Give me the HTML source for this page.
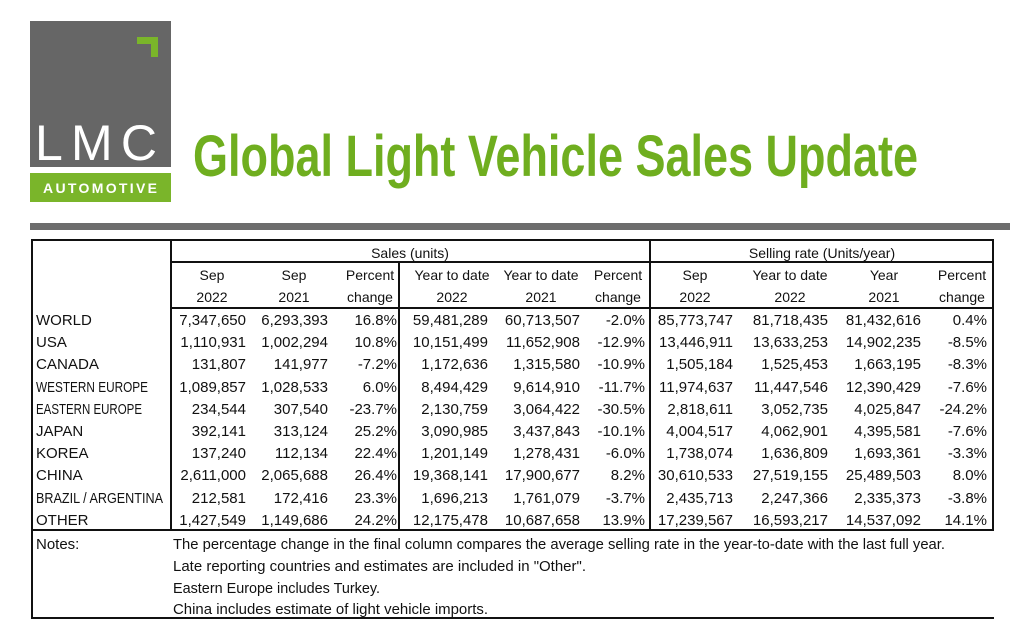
<!DOCTYPE html>
<html><head><meta charset="utf-8"><style>
html,body{margin:0;padding:0;background:#fff;}
svg{display:block;}
text{font-family:"Liberation Sans",sans-serif;fill:#111;font-size:14px;}
.n text{font-size:15px;text-anchor:end;}
.c{text-anchor:middle;}
</style></head><body>
<svg width="1024" height="644" viewBox="0 0 1024 644" xmlns="http://www.w3.org/2000/svg">
<rect x="30" y="21" width="141" height="146" fill="#666666"/>
<path d="M137 37 H158 V57 H151 V44 H137 Z" fill="#7ab52a"/>
<text x="35" y="160" style="font-size:50px;fill:#fff;letter-spacing:4px" textLength="126">LMC</text>
<rect x="30" y="173" width="141" height="29" fill="#7ab52a"/>
<text x="100" y="193" class="c" style="font-size:14px;font-weight:bold;fill:#fff" textLength="114">AUTOMOTIVE</text>
<text x="193" y="176" style="font-size:58px;font-weight:bold;fill:#6fae1f" textLength="725" lengthAdjust="spacingAndGlyphs">Global Light Vehicle Sales Update</text>
<rect x="30" y="223" width="980" height="7" fill="#6d6d6d"/>
<g stroke="#111" stroke-width="2" fill="none">
<line x1="31" y1="240" x2="994" y2="240"/>
<line x1="170" y1="262" x2="994" y2="262"/>
<line x1="170" y1="308" x2="994" y2="308"/>
<line x1="31" y1="530" x2="994" y2="530"/>
<line x1="31" y1="618" x2="994" y2="618"/>
<line x1="32" y1="239" x2="32" y2="619"/>
<line x1="171" y1="239" x2="171" y2="531"/>
<line x1="399" y1="262" x2="399" y2="531"/>
<line x1="650" y1="239" x2="650" y2="531"/>
<line x1="993" y1="239" x2="993" y2="531"/>
</g>
<text x="410" y="258" class="c">Sales (units)</text>
<text x="822" y="258" class="c">Selling rate (Units/year)</text>
<text x="212" y="280" class="c">Sep</text><text x="212" y="302" class="c">2022</text>
<text x="294" y="280" class="c">Sep</text><text x="294" y="302" class="c">2021</text>
<text x="370" y="280" class="c">Percent</text><text x="370" y="302" class="c">change</text>
<text x="452" y="280" class="c">Year to date</text><text x="452" y="302" class="c">2022</text>
<text x="541" y="280" class="c">Year to date</text><text x="541" y="302" class="c">2021</text>
<text x="618" y="280" class="c">Percent</text><text x="618" y="302" class="c">change</text>
<text x="695" y="280" class="c">Sep</text><text x="695" y="302" class="c">2022</text>
<text x="790" y="280" class="c">Year to date</text><text x="790" y="302" class="c">2022</text>
<text x="884" y="280" class="c">Year</text><text x="884" y="302" class="c">2021</text>
<text x="962" y="280" class="c">Percent</text><text x="962" y="302" class="c">change</text>

<text x="36" y="549" style="font-size:15px">Notes:</text>
<text x="173" y="549" style="font-size:15px" textLength="772" lengthAdjust="spacingAndGlyphs">The percentage change in the final column compares the average selling rate in the year-to-date with the last full year.</text>
<text x="173" y="571" style="font-size:15px" textLength="413" lengthAdjust="spacingAndGlyphs">Late reporting countries and estimates are included in "Other".</text>
<text x="173" y="593" style="font-size:15px" textLength="207" lengthAdjust="spacingAndGlyphs">Eastern Europe includes Turkey.</text>
<text x="173" y="614" style="font-size:15px" textLength="315" lengthAdjust="spacingAndGlyphs">China includes estimate of light vehicle imports.</text>

<g>
<text x="36" y="325" style="font-size:15px">WORLD</text>
<text x="36" y="347" style="font-size:15px">USA</text>
<text x="36" y="369" style="font-size:15px" textLength="63" lengthAdjust="spacingAndGlyphs">CANADA</text>
<text x="36" y="392" style="font-size:15px" textLength="112" lengthAdjust="spacingAndGlyphs">WESTERN EUROPE</text>
<text x="36" y="414" style="font-size:15px" textLength="106" lengthAdjust="spacingAndGlyphs">EASTERN EUROPE</text>
<text x="36" y="436" style="font-size:15px">JAPAN</text>
<text x="36" y="458" style="font-size:15px">KOREA</text>
<text x="36" y="480" style="font-size:15px">CHINA</text>
<text x="36" y="503" style="font-size:15px" textLength="127" lengthAdjust="spacingAndGlyphs">BRAZIL / ARGENTINA</text>
<text x="36" y="525" style="font-size:15px">OTHER</text>
</g>
<g class="n">
<text x="246" y="325">7,347,650</text><text x="328" y="325">6,293,393</text><text x="397" y="325">16.8%</text><text x="488" y="325">59,481,289</text><text x="580" y="325">60,713,507</text><text x="645" y="325">-2.0%</text><text x="733" y="325">85,773,747</text><text x="828" y="325">81,718,435</text><text x="921" y="325">81,432,616</text><text x="987" y="325">0.4%</text>
<text x="246" y="347">1,110,931</text><text x="328" y="347">1,002,294</text><text x="397" y="347">10.8%</text><text x="488" y="347">10,151,499</text><text x="580" y="347">11,652,908</text><text x="645" y="347">-12.9%</text><text x="733" y="347">13,446,911</text><text x="828" y="347">13,633,253</text><text x="921" y="347">14,902,235</text><text x="987" y="347">-8.5%</text>
<text x="246" y="369">131,807</text><text x="328" y="369">141,977</text><text x="397" y="369">-7.2%</text><text x="488" y="369">1,172,636</text><text x="580" y="369">1,315,580</text><text x="645" y="369">-10.9%</text><text x="733" y="369">1,505,184</text><text x="828" y="369">1,525,453</text><text x="921" y="369">1,663,195</text><text x="987" y="369">-8.3%</text>
<text x="246" y="392">1,089,857</text><text x="328" y="392">1,028,533</text><text x="397" y="392">6.0%</text><text x="488" y="392">8,494,429</text><text x="580" y="392">9,614,910</text><text x="645" y="392">-11.7%</text><text x="733" y="392">11,974,637</text><text x="828" y="392">11,447,546</text><text x="921" y="392">12,390,429</text><text x="987" y="392">-7.6%</text>
<text x="246" y="414">234,544</text><text x="328" y="414">307,540</text><text x="397" y="414">-23.7%</text><text x="488" y="414">2,130,759</text><text x="580" y="414">3,064,422</text><text x="645" y="414">-30.5%</text><text x="733" y="414">2,818,611</text><text x="828" y="414">3,052,735</text><text x="921" y="414">4,025,847</text><text x="987" y="414">-24.2%</text>
<text x="246" y="436">392,141</text><text x="328" y="436">313,124</text><text x="397" y="436">25.2%</text><text x="488" y="436">3,090,985</text><text x="580" y="436">3,437,843</text><text x="645" y="436">-10.1%</text><text x="733" y="436">4,004,517</text><text x="828" y="436">4,062,901</text><text x="921" y="436">4,395,581</text><text x="987" y="436">-7.6%</text>
<text x="246" y="458">137,240</text><text x="328" y="458">112,134</text><text x="397" y="458">22.4%</text><text x="488" y="458">1,201,149</text><text x="580" y="458">1,278,431</text><text x="645" y="458">-6.0%</text><text x="733" y="458">1,738,074</text><text x="828" y="458">1,636,809</text><text x="921" y="458">1,693,361</text><text x="987" y="458">-3.3%</text>
<text x="246" y="480">2,611,000</text><text x="328" y="480">2,065,688</text><text x="397" y="480">26.4%</text><text x="488" y="480">19,368,141</text><text x="580" y="480">17,900,677</text><text x="645" y="480">8.2%</text><text x="733" y="480">30,610,533</text><text x="828" y="480">27,519,155</text><text x="921" y="480">25,489,503</text><text x="987" y="480">8.0%</text>
<text x="246" y="503">212,581</text><text x="328" y="503">172,416</text><text x="397" y="503">23.3%</text><text x="488" y="503">1,696,213</text><text x="580" y="503">1,761,079</text><text x="645" y="503">-3.7%</text><text x="733" y="503">2,435,713</text><text x="828" y="503">2,247,366</text><text x="921" y="503">2,335,373</text><text x="987" y="503">-3.8%</text>
<text x="246" y="525">1,427,549</text><text x="328" y="525">1,149,686</text><text x="397" y="525">24.2%</text><text x="488" y="525">12,175,478</text><text x="580" y="525">10,687,658</text><text x="645" y="525">13.9%</text><text x="733" y="525">17,239,567</text><text x="828" y="525">16,593,217</text><text x="921" y="525">14,537,092</text><text x="987" y="525">14.1%</text>
</g>
</svg>
</body></html>
